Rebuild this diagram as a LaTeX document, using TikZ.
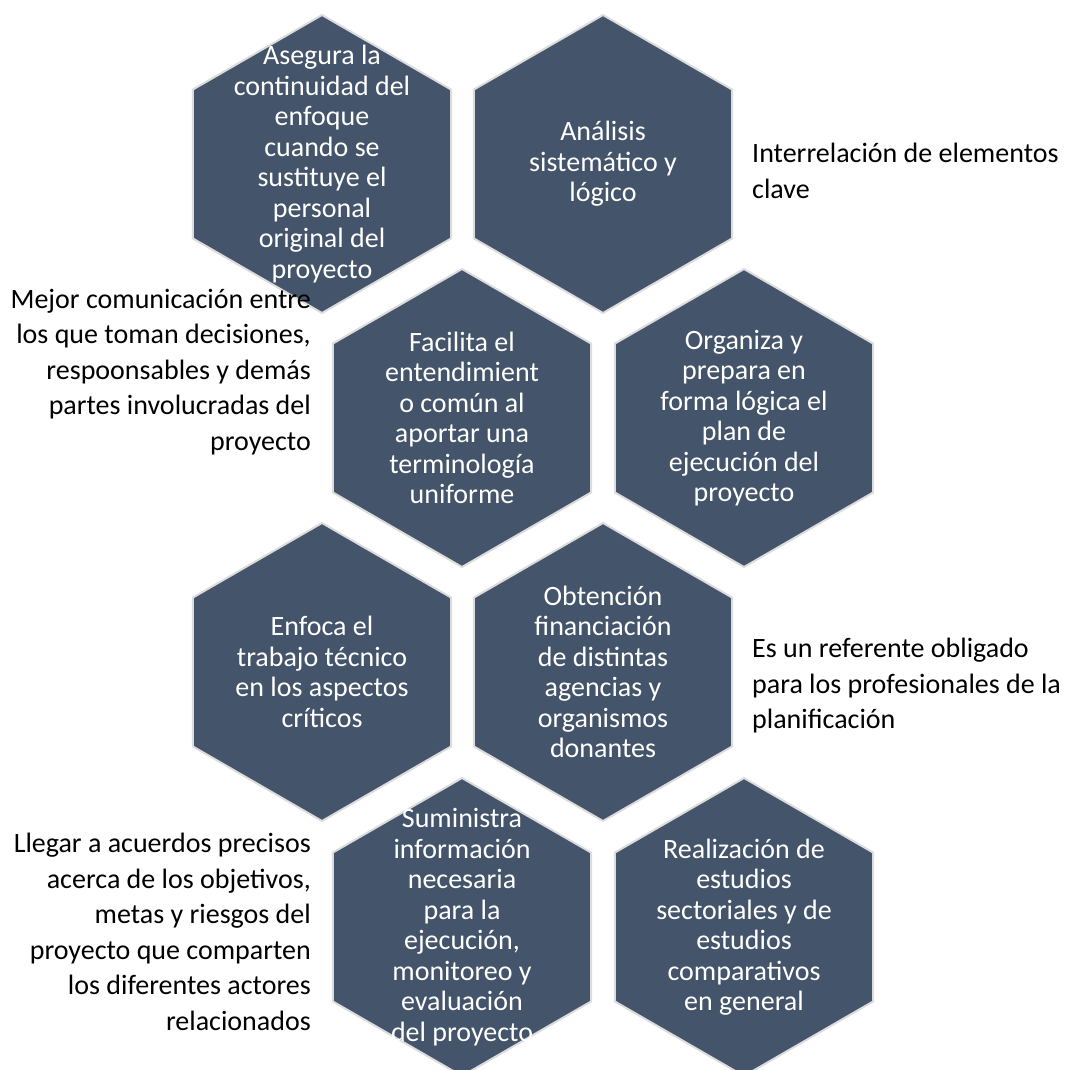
\documentclass[tikz,border=0pt]{standalone}
\usepackage{fontspec}
\setmainfont{Carlito}
\usetikzlibrary{shapes.geometric}

\definecolor{hexfill}{HTML}{44546A}
\definecolor{hexline}{HTML}{DCDCDC}

\tikzset{
  hexa/.style={draw=hexline,line width=2pt,fill=hexfill,regular polygon,
    regular polygon sides=6,regular polygon rotate=30,
    minimum size=298pt,inner sep=0pt},
  hextext/.style={text=white,align=center,inner sep=0pt,
    font=\fontsize{28}{30.5}\selectfont},
  sidetext/.style={text=black,inner sep=0pt,
    font=\fontsize{28}{35.5}\selectfont}
}

\begin{document}
\begin{tikzpicture}[x=1pt,y=-1pt]
    \useasboundingbox (0,0) rectangle (1065,1070);
    \clip (0,0) rectangle (1065,1070);

    % honeycomb, four rows of two
    \node[hexa] (h1) at (322,164) {};
    \node[hexa] (h2) at (603,164) {};
    \node[hexa] (h3) at (462,418) {};
    \node[hexa] (h4) at (744,418) {};
    \node[hexa] (h5) at (322,672) {};
    \node[hexa] (h6) at (603,672) {};
    \node[hexa] (h7) at (462,927) {};
    \node[hexa] (h8) at (744,927) {};

    \node[hextext] (t1) at (h1) {Asegura la\\continuidad del\\enfoque\\cuando se\\sustituye el\\personal\\original del\\proyecto};
    \node[hextext] (t2) at (h2) {Análisis\\sistemático y\\lógico};
    \node[hextext] (t3) at (h3) {Facilita el\\entendimient\\o común al\\aportar una\\terminología\\uniforme};
    \node[hextext] (t4) at (h4) {Organiza y\\prepara en\\forma lógica el\\plan de\\ejecución del\\proyecto};
    \node[hextext] (t5) at (h5) {Enfoca el\\trabajo técnico\\en los aspectos\\críticos};
    \node[hextext] (t6) at (h6) {Obtención\\financiación\\de distintas\\agencias y\\organismos\\donantes};
    \node[hextext] (t7) at (h7) {Suministra\\información\\necesaria\\para la\\ejecución,\\monitoreo y\\evaluación\\del proyecto};
    \node[hextext] (t8) at (h8) {Realización de\\estudios\\sectoriales y de\\estudios\\comparativos\\en general};

    % notes beside the comb
    \node[sidetext,align=left,anchor=west] (s1) at (752,171) {Interrelación de elementos\\clave};
    \node[sidetext,align=right,anchor=east] (s2) at (311,372) {Mejor comunicación entre\\los que toman decisiones,\\respoonsables y demás\\partes involucradas del\\proyecto};
    \node[sidetext,align=left,anchor=west] (s3) at (752,686) {Es un referente obligado\\para los profesionales de la\\planificación};
    \node[sidetext,align=right,anchor=east] (s4) at (311,932) {Llegar a acuerdos precisos\\acerca de los objetivos,\\metas y riesgos del\\proyecto que comparten\\los diferentes actores\\relacionados};
\end{tikzpicture}
\end{document}
